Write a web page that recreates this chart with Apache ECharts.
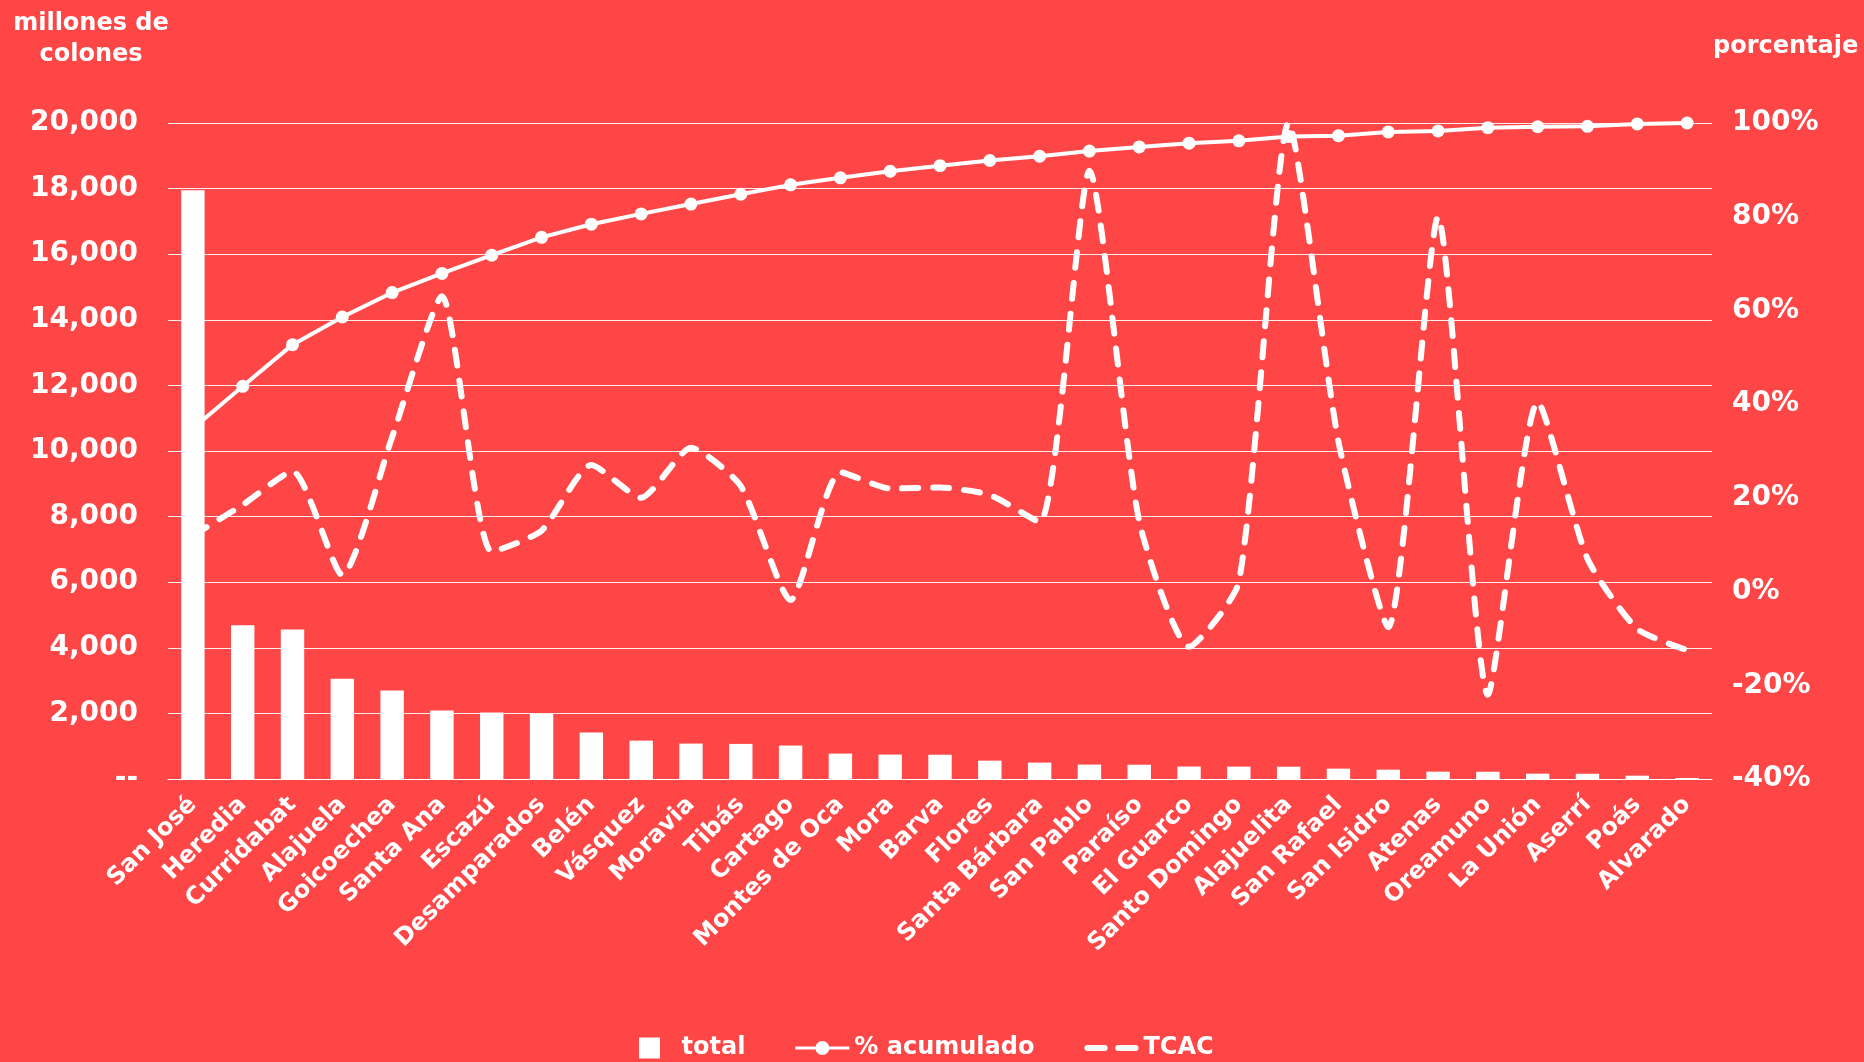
<!DOCTYPE html>
<html>
<head>
<meta charset="utf-8">
<script src="https://cdn.jsdelivr.net/npm/echarts@6/dist/echarts.min.js"></script>
<style>
  html, body { margin: 0; padding: 0; background: #FF4646; }
  #chart { width: 1864px; height: 1062px; }
</style>
</head>
<body>
<div id="chart"></div>
<script>
// Cantones ordenados por monto total
const cantones = [
  'San José', 'Heredia', 'Curridabat', 'Alajuela', 'Goicoechea', 'Santa Ana',
  'Escazú', 'Desamparados', 'Belén', 'Vásquez', 'Moravia', 'Tibás', 'Cartago',
  'Montes de Oca', 'Mora', 'Barva', 'Flores', 'Santa Bárbara', 'San Pablo',
  'Paraíso', 'El Guarco', 'Santo Domingo', 'Alajuelita', 'San Rafael',
  'San Isidro', 'Atenas', 'Oreamuno', 'La Unión', 'Aserrí', 'Poás', 'Alvarado'
];

// Total en millones de colones
const total = [
  17950, 4690, 4560, 3060, 2700, 2090, 2030, 1980, 1420, 1170, 1080, 1070, 1020,
  775, 745, 740, 560, 500, 440, 435, 380, 378, 375, 316, 285, 224, 222, 163, 160,
  102, 30
];

// Porcentaje acumulado del total
const acumulado = [
  34.8, 43.8, 52.7, 58.6, 63.8, 67.9, 71.8, 75.6, 78.4, 80.6, 82.7, 84.8, 86.8,
  88.3, 89.7, 90.9, 92.0, 92.9, 94.0, 94.9, 95.7, 96.2, 97.1, 97.3, 98.1, 98.3,
  99.0, 99.2, 99.3, 99.8, 100
];

// Tasa de crecimiento anual compuesta (%)
const tcac = [
  12.0, 18.5, 25.7, 3.5, 33.0, 63.0, 8.5, 13.0, 27.0, 20.0, 30.7, 22.5, -1.8,
  25.5, 22.0, 22.2, 20.6, 14.8, 89.8, 15.0, -11.8, 2.0, 100.0, 32.0, -7.6, 80.0,
  -22.0, 40.5, 7.0, -8.0, -12.5
];

// Marcas de los ejes
const ticksMontos = [0, 2000, 4000, 6000, 8000, 10000, 12000, 14000, 16000, 18000, 20000];
const ticksPorcentaje = [-40, -20, 0, 20, 40, 60, 80, 100];

const FONT = 'DejaVu Sans';
const WHITE = '#FFFFFF';

// Iconos de la leyenda
const ICON_BARRA = 'path://M0,0 L10,0 L10,10 L0,10 Z';
const ICON_ACUM = 'path://M0,5.5 H20 V8.5 H0 Z M34,5.5 H54 V8.5 H34 Z ' +
                  'M20,7 A7,7 0 1,1 34,7 A7,7 0 1,1 20,7 Z';
const ICON_TCAC = 'path://M3,0 H21 A3,3 0 0,1 21,6 H3 A3,3 0 0,1 3,0 Z ' +
                  'M35,0 H53 A3,3 0 0,1 53,6 H35 A3,3 0 0,1 35,0 Z';

const chart = echarts.init(document.getElementById('chart'), null, { renderer: 'canvas' });

chart.setOption({
  backgroundColor: '#FF4646',
  animation: false,
  textStyle: { fontFamily: FONT, fontWeight: 'bold', color: WHITE },
  grid: { left: 168, right: 152, top: 123, bottom: 283, containLabel: false },
  graphic: [
    {
      type: 'text', left: 11, top: 8,
      style: {
        text: 'millones de\ncolones', fill: WHITE, font: 'bold 24px "DejaVu Sans"',
        textAlign: 'center', lineHeight: 31, width: 160
      }
    },
    {
      type: 'text', left: 1713, top: 35,
      style: { text: 'porcentaje', fill: WHITE, font: 'bold 24px "DejaVu Sans"' }
    }
  ],
  legend: {
    bottom: -3,
    left: 634,
    itemWidth: 54,
    itemHeight: 21,
    itemGap: 50,
    textStyle: { color: WHITE, fontSize: 24, fontWeight: 'bold', fontFamily: FONT },
    data: [
      { name: 'total', icon: ICON_BARRA },
      { name: '% acumulado', icon: ICON_ACUM },
      { name: 'TCAC', icon: ICON_TCAC }
    ]
  },
  xAxis: {
    type: 'category',
    data: cantones,
    boundaryGap: true,
    axisLine: { show: true, lineStyle: { color: WHITE, width: 1 } },
    axisTick: { show: false },
    axisLabel: {
      interval: 0, rotate: 45, margin: 22, color: WHITE,
      fontSize: 24, fontWeight: 'bold', fontFamily: FONT
    }
  },
  yAxis: [
    {
      type: 'value',
      min: ticksMontos[0],
      max: ticksMontos[ticksMontos.length - 1],
      interval: ticksMontos[1] - ticksMontos[0],
      axisLine: { show: false },
      axisTick: { show: false },
      splitLine: { show: true, lineStyle: { color: 'rgba(255,255,255,0.9)', width: 1 } },
      axisLabel: {
        margin: 30, color: WHITE, fontSize: 28, fontWeight: 'bold', fontFamily: FONT,
        formatter: v => v === 0 ? '--' : v.toLocaleString('en-US')
      }
    },
    {
      type: 'value',
      min: ticksPorcentaje[0],
      max: ticksPorcentaje[ticksPorcentaje.length - 1],
      interval: ticksPorcentaje[1] - ticksPorcentaje[0],
      axisLine: { show: false },
      axisTick: { show: false },
      splitLine: { show: false },
      axisLabel: {
        margin: 20, color: WHITE, fontSize: 28, fontWeight: 'bold', fontFamily: FONT,
        formatter: v => v + '%'
      }
    }
  ],
  series: [
    {
      name: 'total',
      type: 'bar',
      data: total,
      barWidth: '47%',
      itemStyle: { color: WHITE },
      z: 2
    },
    {
      name: '% acumulado',
      type: 'line',
      yAxisIndex: 1,
      data: acumulado,
      symbol: 'circle',
      symbolSize: 13,
      lineStyle: { color: WHITE, width: 4 },
      itemStyle: { color: WHITE },
      z: 3
    },
    {
      name: 'TCAC',
      type: 'line',
      yAxisIndex: 1,
      data: tcac,
      smooth: 0.2,
      showSymbol: false,
      symbol: 'none',
      lineStyle: { color: WHITE, width: 6, type: [16, 15], cap: 'round', join: 'round' },
      itemStyle: { color: WHITE },
      z: 4
    }
  ]
});
</script>
</body>
</html>
